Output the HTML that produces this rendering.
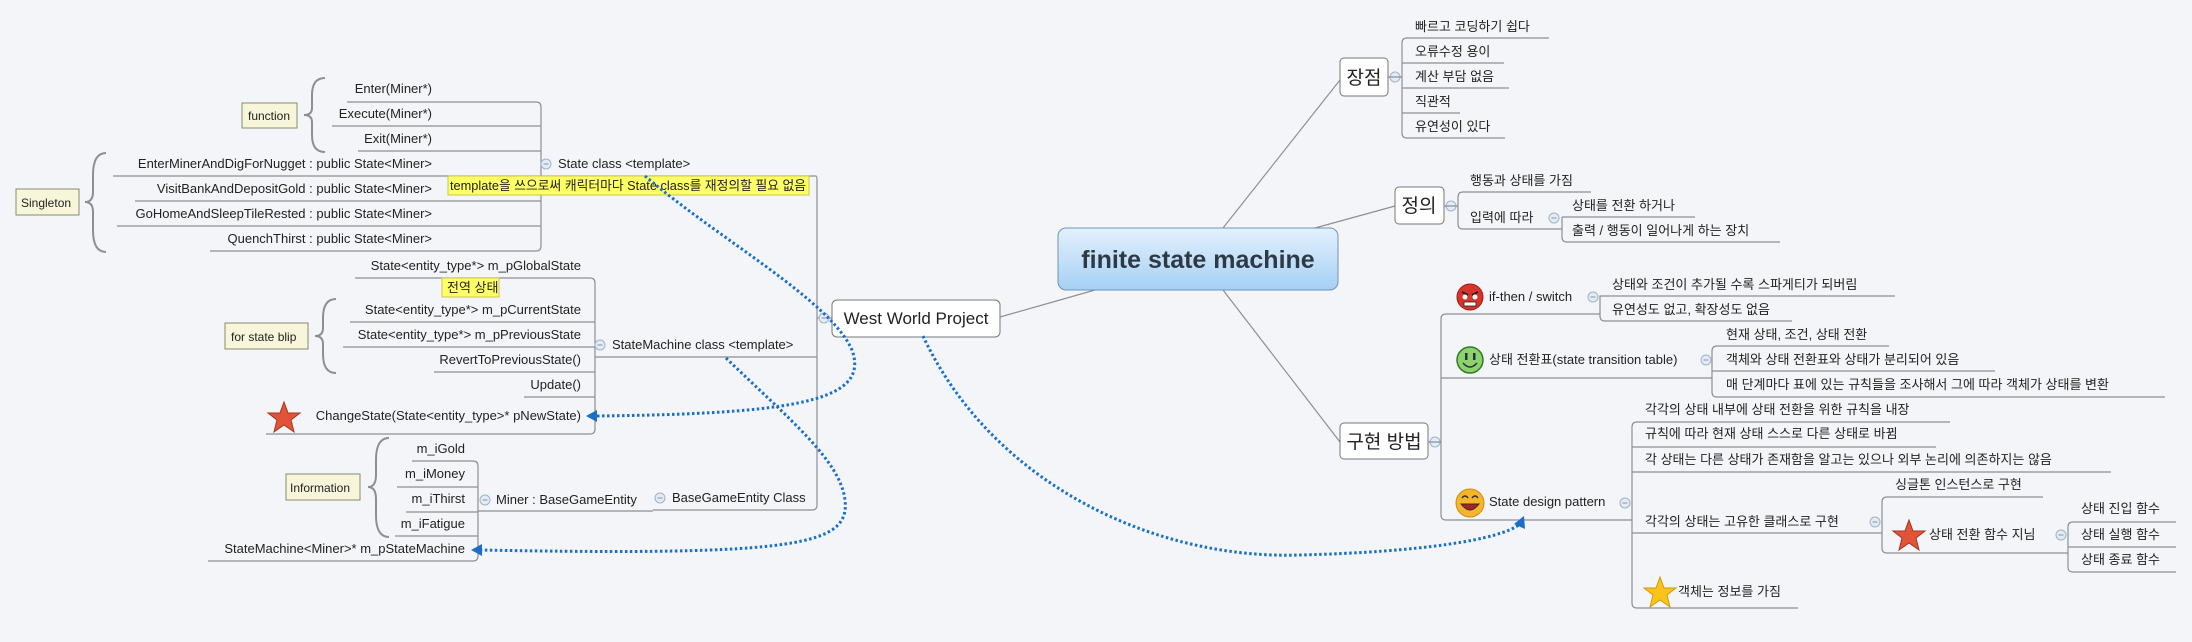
<!DOCTYPE html>
<html><head><meta charset="utf-8"><style>
html,body{margin:0;padding:0;background:#f3f5f8;}
svg{display:block}
text{font-family:"Liberation Sans","Noto Sans CJK KR",sans-serif;font-size:13px;fill:#222;}
.l{stroke:#8c9096;stroke-width:1.2;fill:none}
.d{stroke:#1a6fc9;stroke-width:3;fill:none;stroke-dasharray:2.5 2.5}
.br{stroke:#8c9096;stroke-width:2;fill:none}
.box{fill:#f7f6da;stroke:#8a8a70;stroke-width:1}
.m{fill:#e3ebf5;stroke:#9fb3c9;stroke-width:1}
</style></head><body>
<svg width="2192" height="642" viewBox="0 0 2192 642" xmlns="http://www.w3.org/2000/svg">
<defs>
<linearGradient id="g" x1="0" y1="0" x2="0" y2="1"><stop offset="0" stop-color="#e3f1fd"/><stop offset="1" stop-color="#a6d0f4"/></linearGradient>
<symbol id="mn" viewBox="0 0 12 12"><circle cx="6" cy="6" r="5" class="m"/><line x1="3.5" y1="6" x2="8.5" y2="6" stroke="#7f96b0" stroke-width="1"/></symbol>
</defs>

<!-- ===== Left: State class block ===== -->
<g class="l">
<path d="M347,102H536Q541,102 541,107V246Q541,251 536,251H210"/>
<path d="M332,126H541M358,151H541M113,176H816Q817,176 817,181V505Q817,510 812,510H653"/>
<path d="M135,201H541M117,226H541"/>
<path d="M355,278H590Q595,278 595,283V429Q595,434 590,434H266"/>
<path d="M350,322H595M343,347H595M434,372H595M524,397H595M595,357H817"/>
<path d="M412,461H473Q478,461 478,466V556Q478,561 473,561H208"/>
<path d="M397,487H478M406,512H478M395,536H478M478,511H653"/>
<path d="M817,318H832"/>
</g>
<g text-anchor="end">
<text x="432" y="93">Enter(Miner*)</text>
<text x="432" y="118">Execute(Miner*)</text>
<text x="432" y="143">Exit(Miner*)</text>
<text x="432" y="168">EnterMinerAndDigForNugget : public State&lt;Miner&gt;</text>
<text x="432" y="193">VisitBankAndDepositGold : public State&lt;Miner&gt;</text>
<text x="432" y="218">GoHomeAndSleepTileRested : public State&lt;Miner&gt;</text>
<text x="432" y="243">QuenchThirst : public State&lt;Miner&gt;</text>
<text x="581" y="270">State&lt;entity_type*&gt; m_pGlobalState</text>
<text x="581" y="314">State&lt;entity_type*&gt; m_pCurrentState</text>
<text x="581" y="339">State&lt;entity_type*&gt; m_pPreviousState</text>
<text x="581" y="364">RevertToPreviousState()</text>
<text x="581" y="389">Update()</text>
<text x="581" y="420">ChangeState(State&lt;entity_type&gt;* pNewState)</text>
<text x="465" y="453">m_iGold</text>
<text x="465" y="478">m_iMoney</text>
<text x="465" y="503">m_iThirst</text>
<text x="465" y="528">m_iFatigue</text>
<text x="465" y="553">StateMachine&lt;Miner&gt;* m_pStateMachine</text>
</g>
<text x="558" y="168">State class &lt;template&gt;</text>
<text x="612" y="349">StateMachine class &lt;template&gt;</text>
<text x="496" y="504">Miner : BaseGameEntity</text>
<text x="672" y="502">BaseGameEntity Class</text>
<use href="#mn" x="540" y="158" width="12" height="12"/>
<use href="#mn" x="594" y="339" width="12" height="12"/>
<use href="#mn" x="479" y="494" width="12" height="12"/>
<use href="#mn" x="654" y="492" width="12" height="12"/>
<use href="#mn" x="818" y="312" width="12" height="12"/>

<!-- notes -->
<rect x="448" y="176" width="361" height="19" fill="#ffff66" stroke="#c9c94a"/>
<text x="450" y="190" textLength="356" lengthAdjust="spacingAndGlyphs">template을 쓰으로써 캐릭터마다 State class를 재정의할 필요 없음</text>
<rect x="442" y="278" width="57" height="19" fill="#ffff66" stroke="#c9c94a"/>
<text x="447" y="292">전역 상태</text>

<!-- braces + boxes -->
<path class="br" d="M325,78Q312,78 312,95V108Q312,115 304,115Q312,115 312,122V135Q312,152 325,152"/>
<rect class="box" x="242" y="103" width="55" height="25"/><text x="248" y="120" style="font-size:12px">function</text>
<path class="br" d="M106,153Q93,153 93,175V192Q93,202 85,202Q93,202 93,212V230Q93,252 106,252"/>
<rect class="box" x="16" y="189" width="63" height="26"/><text x="21" y="207" style="font-size:12px">Singleton</text>
<path class="br" d="M336,299Q323,299 323,318V328Q323,336 315,336Q323,336 323,344V354Q323,373 336,373"/>
<rect class="box" x="225" y="323" width="83" height="26"/><text x="231" y="341" style="font-size:12px">for state blip</text>
<path class="br" d="M389,438Q376,438 376,460V475Q376,487 368,487Q376,487 376,499V515Q376,537 389,537"/>
<rect class="box" x="286" y="474" width="74" height="26"/><text x="290" y="492" style="font-size:12px">Information</text>

<!-- star red left -->
<polygon points="284,402 288,413 300,413 291,420 294,432 284,425 274,432 277,420 268,413 280,413" fill="#e0553a" stroke="#a8321e" stroke-width="1"/>

<!-- West World Project -->
<rect x="832" y="300" width="168" height="37" rx="5" fill="#fff" stroke="#777"/>
<text x="916" y="324" text-anchor="middle" style="font-size:17px">West World Project</text>
<path class="l" d="M1000,317L1095,290"/>

<!-- center -->
<rect x="1058" y="228" width="280" height="62" rx="8" fill="url(#g)" stroke="#6f95b6"/>
<text x="1198" y="268" text-anchor="middle" style="font-size:25px;font-weight:bold;fill:#2d3a46">finite state machine</text>
<g class="l">
<path d="M1223,228L1340,80M1315,228L1395,206M1223,290L1340,442"/>
</g>

<!-- 장점 -->
<rect x="1340" y="58" width="48" height="38" rx="4" fill="#fff" stroke="#777"/>
<text x="1364" y="84" text-anchor="middle" style="font-size:19px">장점</text>
<use href="#mn" x="1389" y="71" width="12" height="12"/>
<g class="l"><path d="M1549,38H1407Q1402,38 1402,43V133Q1402,138 1407,138H1505M1402,63H1504M1402,88H1509M1402,113H1460M1388,77H1402"/></g>
<text x="1415" y="31">빠르고 코딩하기 쉽다</text>
<text x="1415" y="56">오류수정 용이</text>
<text x="1415" y="81">계산 부담 없음</text>
<text x="1415" y="106">직관적</text>
<text x="1415" y="131">유연성이 있다</text>

<!-- 정의 -->
<rect x="1395" y="187" width="49" height="37" rx="4" fill="#fff" stroke="#777"/>
<text x="1419" y="212" text-anchor="middle" style="font-size:19px">정의</text>
<use href="#mn" x="1445" y="200" width="12" height="12"/>
<g class="l"><path d="M1591,192H1463Q1458,192 1458,197V224Q1458,229 1463,229H1562M1562,217H1695M1562,217V237Q1562,242 1567,242H1780M1444,206H1458"/></g>
<text x="1470" y="185">행동과 상태를 가짐</text>
<text x="1470" y="222">입력에 따라</text>
<use href="#mn" x="1548" y="212" width="12" height="12"/>
<text x="1572" y="210">상태를 전환 하거나</text>
<text x="1572" y="235">출력 / 행동이 일어나게 하는 장치</text>

<!-- 구현 방법 -->
<rect x="1340" y="423" width="88" height="36" rx="4" fill="#fff" stroke="#777"/>
<text x="1384" y="448" text-anchor="middle" style="font-size:19px">구현 방법</text>
<use href="#mn" x="1429" y="436" width="12" height="12"/>
<g class="l">
<path d="M1600,314H1446Q1441,314 1441,319V515Q1441,520 1446,520H1632M1428,442H1441M1441,378H1712"/>
<path d="M1895,296H1600V316Q1600,321 1605,321H1792"/>
<path d="M1889,346H1717Q1712,346 1712,351V392Q1712,397 1717,397H2165M1712,371H1995"/>
<path d="M1950,422H1637Q1632,422 1632,427V603Q1632,608 1637,608H1798M1632,447H1936M1632,472H2111M1632,533H1880"/>
<path d="M2043,497H1887Q1882,497 1882,502V548Q1882,553 1887,553H2068M1880,533H1882"/>
<path d="M2176,522H2073Q2068,522 2068,527V567Q2068,572 2073,572H2176M2068,547H2176"/>
</g>
<!-- icons -->
<circle cx="1470" cy="297" r="13" fill="#d9342b" stroke="#9b1d16"/>
<path d="M1462,292L1468,295M1478,292L1472,295" stroke="#222" stroke-width="2"/>
<circle cx="1465" cy="297" r="2.5" fill="#fff"/><circle cx="1475" cy="297" r="2.5" fill="#fff"/>
<rect x="1464" y="302" width="12" height="4" fill="#fff" stroke="#222" stroke-width="0.8"/>
<circle cx="1470" cy="360" r="13" fill="#8fd16a" stroke="#2f7a2a" stroke-width="1.5"/>
<rect x="1465" y="353" width="2.5" height="7" fill="#234"/><rect x="1473" y="353" width="2.5" height="7" fill="#234"/>
<path d="M1463,363Q1470,371 1477,363" stroke="#234" stroke-width="1.5" fill="none"/>
<circle cx="1470" cy="503" r="14" fill="#f6b52a" stroke="#d08a10"/>
<path d="M1462,498Q1465,494 1468,498M1472,498Q1475,494 1478,498" stroke="#333" stroke-width="1.5" fill="none"/>
<path d="M1461,504Q1470,516 1479,504Z" fill="#a22" stroke="#333"/>

<text x="1489" y="301">if-then / switch</text>
<use href="#mn" x="1587" y="291" width="12" height="12"/>
<text x="1612" y="289">상태와 조건이 추가될 수록 스파게티가 되버림</text>
<text x="1612" y="314">유연성도 없고, 확장성도 없음</text>

<text x="1489" y="364">상태 전환표(state transition table)</text>
<use href="#mn" x="1700" y="354" width="12" height="12"/>
<text x="1726" y="339">현재 상태, 조건, 상태 전환</text>
<text x="1726" y="364">객체와 상태 전환표와 상태가 분리되어 있음</text>
<text x="1726" y="389">매 단계마다 표에 있는 규칙들을 조사해서 그에 따라 객체가 상태를 변환</text>

<text x="1489" y="506">State design pattern</text>
<use href="#mn" x="1619" y="497" width="12" height="12"/>
<text x="1645" y="414">각각의 상태 내부에 상태 전환을 위한 규칙을 내장</text>
<text x="1645" y="438">규칙에 따라 현재 상태 스스로 다른 상태로 바뀜</text>
<text x="1645" y="464">각 상태는 다른 상태가 존재함을 알고는 있으나 외부 논리에 의존하지는 않음</text>
<text x="1645" y="526">각각의 상태는 고유한 클래스로 구현</text>
<use href="#mn" x="1869" y="516" width="12" height="12"/>
<text x="1895" y="489">싱글톤 인스턴스로 구현</text>
<polygon points="1909,520 1913,531 1925,531 1916,538 1919,550 1909,543 1899,550 1902,538 1893,531 1905,531" fill="#e0553a" stroke="#a8321e"/>
<text x="1929" y="539">상태 전환 함수 지님</text>
<use href="#mn" x="2055" y="529" width="12" height="12"/>
<text x="2081" y="513">상태 진입 함수</text>
<text x="2081" y="539">상태 실행 함수</text>
<text x="2081" y="564">상태 종료 함수</text>
<polygon points="1660,577 1664,588 1676,588 1667,595 1670,607 1660,600 1650,607 1653,595 1644,588 1656,588" fill="#f8c31c" stroke="#d49a00"/>
<text x="1678" y="596">객체는 정보를 가짐</text>

<!-- dotted arrows -->
<path class="d" d="M645,176C720,240 830,300 852,350C870,400 800,414 594,416"/>
<polygon points="586,416 597,410 597,422" fill="#1a6fc9"/>
<path class="d" d="M726,358C790,420 840,460 845,500C850,545 800,556 480,550"/>
<polygon points="471,550 482,544 482,556" fill="#1a6fc9"/>
<path class="d" d="M923,336C990,480 1150,560 1300,555C1420,552 1500,540 1520,524"/>
<polygon points="1524,516 1525,529 1514,524" fill="#1a6fc9"/>
</svg>
</body></html>
